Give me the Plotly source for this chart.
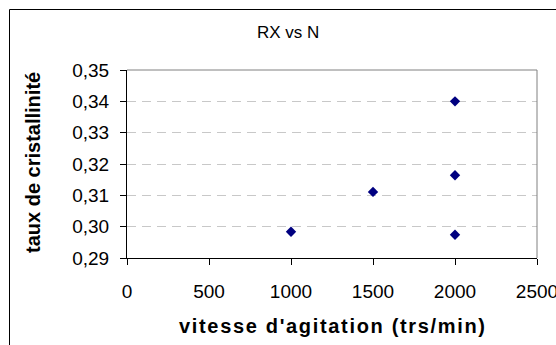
import plotly.graph_objects as go

# Agitation speed (rpm) and crystallinity ratio measured for each run
vitesse = [1000, 1500, 2000, 2000, 2000]
cristallinite = [0.2984, 0.3111, 0.3400, 0.3164, 0.2974]

x_ticks = [0, 500, 1000, 1500, 2000, 2500]
y_ticks = [0.29, 0.30, 0.31, 0.32, 0.33, 0.34, 0.35]
y_labels = [f"{v:.2f}".replace(".", ",") for v in y_ticks]

W, H = 556, 345
L, R, T, B = 127, 19, 70, 87
pw, ph = W - L - R, H - T - B


def px_x(px):
    return (px - L) / pw


def px_y(py):
    return (H - B - py) / ph


font = "Arial, Liberation Sans, sans-serif"
hair = "\u200a"
x_title = hair.join("vitesse d'agitation (trs/min)")

fig = go.Figure()
fig.add_trace(go.Scatter(
    x=vitesse, y=cristallinite, mode="markers",
    marker=dict(symbol="diamond", size=8, color="#000080",
                line=dict(width=0)),
    showlegend=False, cliponaxis=False,
))

fig.update_layout(
    width=W, height=H,
    margin=dict(l=L, r=R, t=T, b=B, autoexpand=False),
    paper_bgcolor="white", plot_bgcolor="white",
    font=dict(family=font, color="black"),
    xaxis=dict(
        range=[0, 2500], tickvals=x_ticks, ticktext=[str(v) for v in x_ticks],
        showgrid=False, zeroline=False, automargin=False,
        showline=True, linecolor="black", linewidth=1,
        ticks="outside", ticklen=6, tickcolor="black",
        tickfont=dict(size=19), ticklabelstandoff=10,
        ticklabeloverflow="allow",
    ),
    yaxis=dict(
        range=[0.29, 0.35], tickvals=y_ticks, ticktext=y_labels,
        showgrid=True, gridcolor="#c8c8c8", griddash="9px,6px", gridwidth=1,
        zeroline=False, automargin=False,
        showline=True, linecolor="black", linewidth=1,
        ticks="outside", ticklen=6, tickcolor="black",
        tickfont=dict(size=19), ticklabelstandoff=7,
    ),
    annotations=[
        dict(text="RX vs N", xref="paper", yref="paper",
             x=px_x(287.5), y=px_y(32), xanchor="center", yanchor="middle",
             showarrow=False, font=dict(size=17)),
        dict(text=f"<b>{x_title}</b>", xref="paper", yref="paper",
             x=px_x(332), y=px_y(326), xanchor="center", yanchor="middle",
             showarrow=False, font=dict(size=20)),
        dict(text="<b>taux de cristallinité</b>", xref="paper", yref="paper",
             x=px_x(33), y=px_y(163), xanchor="center", yanchor="middle",
             textangle=-90, showarrow=False, font=dict(size=20)),
    ],
    shapes=[
        # plot area frame on top and right
        dict(type="line", xref="paper", yref="paper", x0=0, x1=1, y0=1, y1=1,
             line=dict(color="#808080", width=1)),
        dict(type="line", xref="paper", yref="paper", x0=1, x1=1, y0=0, y1=1,
             line=dict(color="#808080", width=1)),
        # outer chart border
        dict(type="rect", xref="paper", yref="paper",
             x0=px_x(9.5), x1=px_x(W + 20),
             y0=px_y(H + 20), y1=px_y(9.5),
             line=dict(color="black", width=1), layer="below"),
    ],
)

fig.write_html("out.html")
